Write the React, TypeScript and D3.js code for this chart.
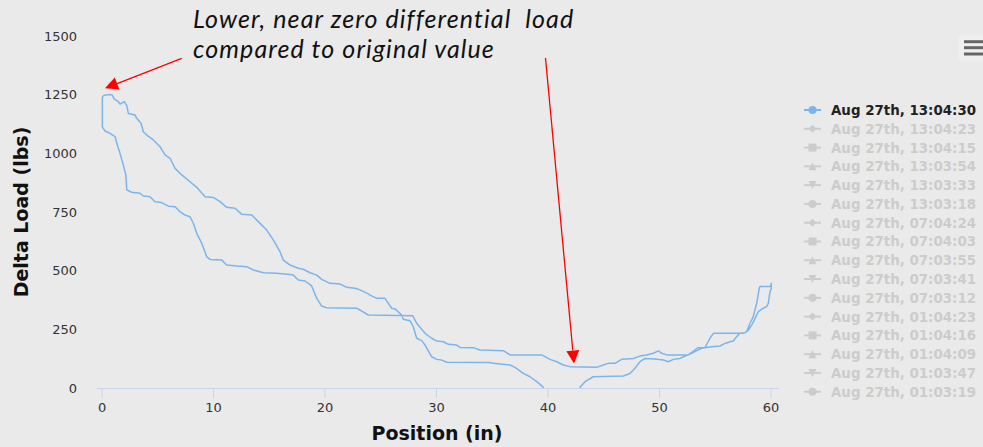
import React from "react";
import * as d3 from "d3";

const outPos = [0.03,0.03,0.27,0.72,1.17,1.32,1.61,1.91,2.13,2.22,2.66,3.41,3.7,4.3,4.75,5.35,5.95,6.55,7.0,7.44,7.89,8.19,8.49,8.94,9.39,9.69,10.74,11.18,12.08,12.98,13.57,14.47,15.67,16.86,17.16,17.6,18.2,18.8,19.26,19.7,20.15,22.84,23.88,27.86,28.22,28.97,29.57,30.02,30.61,31.06,31.81,32.11,33.3,33.9,35.99,36.59,39.43,40.18,40.78,41.37,41.97,44.37,44.96,45.41,46.01,46.61,47.65,48.25,48.85,49.45,49.9,50.2,50.65,52.58,53.18,53.48,54.08,54.53,54.83,57.52,57.82,58.12,58.41,58.72,58.95,59.01,59.95,60.03];
const outLoad = [1241,1113,1095,1085,1071,1043,1000,950,908,844,834,830,818,815,794,790,775,772,751,737,730,702,659,617,559,548,545,524,520,517,503,491,489,484,481,460,456,435,382,349,342,340,311,308,276,233,212,200,197,186,183,173,172,162,159,141,141,122,112,98,91,88,98,105,105,122,126,136,141,148,158,148,141,141,162,172,172,212,233,233,240,276,304,361,425,432,432,446];
const backPos = [60.03,59.91,59.76,59.61,59.31,58.86,58.57,58.27,57.97,57.67,57.22,56.92,56.62,56.32,55.87,55.43,54.68,54.23,53.78,53.18,52.74,52.29,51.84,51.24,50.79,50.34,49.6,48.7,48.25,47.8,47.35,46.76,44.06,43.32,42.93,42.6,41.2,39.8,39.52,38.99,38.39,37.79,37.04,36.59,35.09,34.8,30.91,30.47,30.02,29.57,28.97,28.67,28.22,27.92,27.62,27.02,26.87,26.28,25.98,25.38,24.64,24.04,23.88,23.14,22.69,21.95,21.35,20.45,19.7,19.26,18.65,18.05,17.6,16.86,16.26,15.96,15.36,14.77,14.02,13.43,12.53,11.93,11.18,10.58,9.98,9.24,8.49,7.89,7.15,6.55,6.1,5.65,5.2,4.6,4.01,3.7,3.5,3.11,2.96,2.36,2.22,2.0,1.61,1.46,1.1,0.92,0.72,0.21,0.03];
const backLoad = [425,410,361,347,340,325,297,268,247,236,233,219,200,197,190,179,176,173,169,155,145,136,126,122,112,119,124,126,112,84,62,51,48,27,6,-20,-50,-20,6,27,48,62,88,98,105,109,110,119,122,133,183,202,212,261,287,293,311,337,340,382,382,396,401,418,425,429,443,446,463,481,491,506,510,524,545,581,631,673,709,737,740,766,770,794,812,815,855,879,908,936,979,993,1028,1057,1078,1092,1128,1149,1163,1170,1203,1220,1210,1220,1231,1248,1251,1248,1241];

const xTicks = [0, 10, 20, 30, 40, 50, 60];
const yTicks = [0, 250, 500, 750, 1000, 1250, 1500];

const legendLabels = [
  "Aug 27th, 13:04:30","Aug 27th, 13:04:23","Aug 27th, 13:04:15","Aug 27th, 13:03:54",
  "Aug 27th, 13:03:33","Aug 27th, 13:03:18","Aug 27th, 07:04:24","Aug 27th, 07:04:03",
  "Aug 27th, 07:03:55","Aug 27th, 07:03:41","Aug 27th, 07:03:12","Aug 27th, 01:04:23",
  "Aug 27th, 01:04:16","Aug 27th, 01:04:09","Aug 27th, 01:03:47","Aug 27th, 01:03:19",
];
const symbolNames = ["circle", "diamond", "square", "triangle", "triangle-down"];

const annotationLines = ["Lower, near zero differential  load", "compared to original value"];

const W = 983, H = 447;
const plotLeft = 96.7, plotRight = 779, plotTop = 36, plotBottom = 388;

function arrowHead(x1: number, y1: number, x2: number, y2: number, len: number, half: number) {
  const dx = x2 - x1, dy = y2 - y1;
  const L = Math.hypot(dx, dy);
  const ux = dx / L, uy = dy / L;
  const bx = x2 - ux * len, by = y2 - uy * len;
  const px = -uy, py = ux;
  return {
    base: [bx, by],
    pts: `${x2},${y2} ${bx + px * half},${by + py * half} ${bx - px * half},${by - py * half}`,
  };
}

function symbolPath(name: string, cx: number, cy: number) {
  const r = 4;
  switch (name) {
    case "diamond":
      return `M${cx},${cy - r} L${cx + r},${cy} L${cx},${cy + r} L${cx - r},${cy} Z`;
    case "square":
      return `M${cx - r},${cy - r} h${2 * r} v${2 * r} h${-2 * r} Z`;
    case "triangle":
      return `M${cx},${cy - r} L${cx + r},${cy + r} L${cx - r},${cy + r} Z`;
    case "triangle-down":
      return `M${cx - r},${cy - r} L${cx + r},${cy - r} L${cx},${cy + r} Z`;
    default:
      return `M${cx - r},${cy} a${r},${r} 0 1,0 ${2 * r},0 a${r},${r} 0 1,0 ${-2 * r},0`;
  }
}

export default function App() {
  const x = d3.scaleLinear().domain([-0.48, 60.72]).range([plotLeft, plotRight]);
  const y = d3.scaleLinear().domain([0, 1500]).range([plotBottom, plotTop]);

  const pts: [number, number][] = [];
  outPos.forEach((p, i) => pts.push([p, outLoad[i]]));
  backPos.forEach((p, i) => pts.push([p, backLoad[i]]));
  const line = d3.line<[number, number]>().x((d) => x(d[0])).y((d) => y(d[1]));

  const a1 = arrowHead(181.7, 58.3, 105, 88.3, 13, 6.5);
  const a2 = arrowHead(545.5, 58, 574, 363.5, 13, 6.5);

  const legendY0 = 110, legendStep = 18.78;

  return (
    <svg width={W} height={H} style={{ position: "absolute", left: 0, top: 0, background: "#eaeaea" }}>
      <rect x={0} y={0} width={W} height={H} fill="#eaeaea" />
      <defs>
        <clipPath id="plotclip">
          <rect x={plotLeft} y={plotTop - 5} width={plotRight - plotLeft} height={plotBottom - plotTop + 5} />
        </clipPath>
      </defs>

      {/* y labels */}
      {yTicks.map((t) => (
        <text key={t} x={77} y={y(t) + 4.5} textAnchor="end" fontFamily="DejaVu Sans" fontSize={13} fill="#333">
          {t}
        </text>
      ))}
      <text
        transform={`translate(28,${(plotTop + plotBottom) / 2}) rotate(-90)`}
        textAnchor="middle"
        fontFamily="DejaVu Sans"
        fontWeight="bold"
        fontSize={19}
        fill="#111"
      >
        Delta Load (lbs)
      </text>

      {/* x axis */}
      <line x1={plotLeft} x2={plotRight} y1={plotBottom + 0.5} y2={plotBottom + 0.5} stroke="#c8d4ea" strokeWidth={1} />
      {xTicks.map((t) => (
        <g key={t}>
          <line x1={x(t)} x2={x(t)} y1={plotBottom} y2={plotBottom + 10} stroke="#c8d4ea" strokeWidth={1} />
          <text x={x(t)} y={412} textAnchor="middle" fontFamily="DejaVu Sans" fontSize={13} fill="#333">
            {t}
          </text>
        </g>
      ))}
      <text x={437} y={440} textAnchor="middle" fontFamily="DejaVu Sans" fontWeight="bold" fontSize={19} fill="#111">
        Position (in)
      </text>

      {/* series */}
      <g clipPath="url(#plotclip)">
        <path d={line(pts) || ""} fill="none" stroke="#7cb5ec" strokeWidth={1.5} strokeLinejoin="round" />
      </g>

      {/* annotation */}
      {annotationLines.map((s, i) => (
        <text
          key={i}
          x={193}
          y={28 + i * 30}
          fontFamily="Lato"
          fontStyle="italic"
          fontSize={25}
          letterSpacing={1.1}
          fill="#111"
          style={{ whiteSpace: "pre" }}
        >
          {s}
        </text>
      ))}
      <line x1={181.7} y1={58.3} x2={a1.base[0]} y2={a1.base[1]} stroke="#ff0000" strokeWidth={1.3} />
      <polygon points={a1.pts} fill="#ff0000" />
      <line x1={545.5} y1={58} x2={a2.base[0]} y2={a2.base[1]} stroke="#ff0000" strokeWidth={1.3} />
      <polygon points={a2.pts} fill="#ff0000" />

      {/* legend */}
      {legendLabels.map((lab, i) => {
        const cy = legendY0 + i * legendStep;
        const active = i === 0;
        const col = active ? "#7cb5ec" : "#cccccc";
        return (
          <g key={lab}>
            <line x1={804} x2={821} y1={cy} y2={cy} stroke={col} strokeWidth={2} />
            <path d={symbolPath(symbolNames[i % 5], 812.5, cy)} fill={col} />
            <text
              x={831}
              y={cy + 5}
              fontFamily="DejaVu Sans"
              fontWeight="bold"
              fontSize={13.4}
              fill={active ? "#222" : "#cccccc"}
            >
              {lab}
            </text>
          </g>
        );
      })}

      {/* context button */}
      <rect x={958.5} y={34.5} width={32} height={27} rx={2} fill="#efefef" />
      {[41.7, 47.7, 54].map((yy) => (
        <line key={yy} x1={964} x2={984} y1={yy} y2={yy} stroke="#666" strokeWidth={3} />
      ))}
    </svg>
  );
}
